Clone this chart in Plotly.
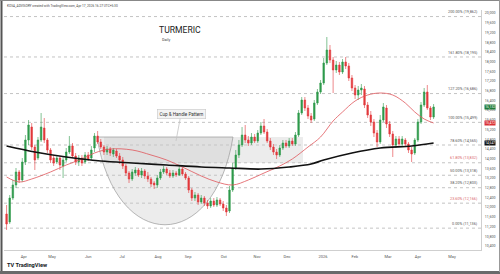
import plotly.graph_objects as go

# ---------------- data ----------------
bar_index = list(range(137))  # each bar ~ two trading days

opens = [11719, 11390, 12379, 12916, 13452, 13122, 13864, 14771, 15307, 14482,
         14029, 14771, 15265, 14771, 14359, 14029, 13864, 14029, 13699, 13946,
         14276, 14524, 14111, 13864, 14029, 13864, 14153, 14029, 14441, 14935,
         14689, 14482, 14276, 14400, 14194, 14317, 14111, 13946, 13699, 13410,
         13163, 13410, 13534, 13328, 13493, 13287, 13163, 12998, 12916, 13204,
         13452, 13575, 13410, 13287, 13410, 13328, 13575, 13369, 13204, 12709,
         12379, 12503, 12214, 12379, 12173, 12050, 12256, 12091, 12297, 12132,
         11967, 11843, 12709, 13616, 14153, 14565, 14977, 14771, 14647, 14895,
         14730, 15059, 15348, 15101, 14730, 14482, 14276, 14153, 14441, 14647,
         14524, 14730, 14606, 14977, 15884, 16420, 16090, 15760, 15637, 16296,
         16750, 17121, 17946, 18482, 18070, 17658, 17864, 17575, 17988, 17823,
         17328, 16915, 16626, 16832, 16874, 16214, 15802, 15513, 15059, 14689,
         15596, 16090, 15431, 15018, 14565, 14812, 14606, 14771, 14606, 14359,
         14235, 14771, 15513, 16214, 16750, 16090, 15719]
highs = [12091, 12503, 13122, 13616, 13534, 14029, 14977, 15596, 15472, 14565,
         14895, 15884, 15678, 14853, 14441, 14153, 14153, 14111, 14070, 14441,
         14935, 14647, 14235, 14153, 14153, 14276, 14276, 14524, 15059, 15142,
         14812, 14565, 14524, 14482, 14441, 14400, 14235, 14070, 13781, 13493,
         13575, 13658, 13616, 13616, 13575, 13452, 13246, 13081, 13328, 13575,
         13699, 13658, 13534, 13534, 13493, 13699, 13658, 13452, 13287, 12792,
         12627, 12586, 12503, 12462, 12297, 12379, 12379, 12420, 12379, 12256,
         12091, 12874, 13822, 14359, 14771, 15307, 15390, 14935, 15059, 15018,
         15183, 15513, 15637, 15224, 14853, 14606, 14400, 14565, 14771, 14771,
         14853, 14853, 15101, 16008, 16544, 16544, 16214, 15884, 16420, 16874,
         17245, 18152, 19018, 18688, 18194, 18029, 17988, 18111, 18194, 17946,
         17451, 17039, 16997, 17080, 16997, 16338, 15967, 15637, 15183, 15802,
         16296, 16214, 15555, 15142, 14935, 14935, 14935, 14853, 14689, 14482,
         14853, 15637, 16338, 16915, 17039, 16173, 16255]
lows = [11060, 11307, 12297, 12792, 12998, 13040, 13740, 14565, 14359, 13534,
        13946, 14689, 14647, 14235, 13822, 13699, 13781, 13534, 13204, 13864,
        14194, 14029, 13740, 13699, 13699, 13781, 13905, 13946, 14276, 14606,
        14400, 14153, 14153, 14111, 14070, 14029, 13781, 13575, 13287, 12998,
        13081, 13287, 13246, 13204, 13163, 13040, 12833, 12751, 12792, 13122,
        13369, 13328, 13204, 13204, 13246, 13287, 13287, 13122, 12586, 12256,
        12256, 12091, 12132, 12050, 11926, 11967, 12008, 12008, 12050, 11843,
        11637, 11760, 12627, 13534, 14029, 14482, 14647, 14524, 14565, 14647,
        14647, 14977, 15018, 14647, 14359, 14153, 13988, 14070, 14359, 14441,
        14441, 14524, 14524, 14895, 15802, 15967, 15637, 15472, 15555, 16214,
        16667, 17039, 17864, 17946, 16709, 17534, 17451, 17493, 17699, 17204,
        16791, 16461, 16420, 16626, 16090, 15678, 15348, 14895, 14482, 14606,
        15513, 15265, 14895, 14070, 14441, 14482, 14482, 14482, 14235, 13864,
        14153, 14689, 15431, 16132, 16008, 15596, 15637]
closes = [11307, 12379, 12916, 13452, 13122, 13864, 14771, 15390, 14482, 13946,
          14771, 15307, 14771, 14359, 13946, 13822, 14029, 13740, 13946, 14276,
          14524, 14111, 13864, 14029, 13822, 14153, 13988, 14359, 14935, 14689,
          14482, 14276, 14400, 14235, 14359, 14111, 13946, 13699, 13410, 13163,
          13452, 13534, 13328, 13493, 13287, 13163, 12957, 12916, 13204, 13452,
          13575, 13410, 13287, 13410, 13328, 13575, 13369, 13204, 12709, 12379,
          12503, 12214, 12379, 12173, 12050, 12256, 12091, 12297, 12132, 11967,
          11802, 12709, 13616, 14153, 14565, 14977, 14771, 14647, 14895, 14730,
          15059, 15348, 15101, 14730, 14482, 14276, 14153, 14441, 14647, 14524,
          14730, 14606, 14977, 15884, 16420, 16090, 15760, 15596, 16296, 16750,
          17121, 17946, 18482, 18070, 17658, 17864, 17575, 17988, 17823, 17328,
          16915, 16626, 16832, 16915, 16214, 15802, 15513, 15059, 14689, 15596,
          16132, 15431, 15018, 14565, 14812, 14606, 14812, 14606, 14359, 14194,
          14771, 15513, 16214, 16750, 16090, 15719, 16132]

ema_fast_bar = [0, 4, 8, 14, 19, 24, 28, 33, 40, 46, 51, 56, 62, 67, 72, 77, 82, 87,
                91, 96, 100, 104, 107, 111, 115, 119, 123, 127, 130, 133, 136]
ema_fast_val = [13246, 13040, 13163, 13452, 13740, 13988, 14235, 14400, 14359, 14153,
                13946, 13658, 13287, 13040, 12916, 13122, 13410, 13699, 13988, 14482,
                14895, 15555, 15926, 16379, 16626, 16709, 16626, 16296, 15926, 15637, 15472]

ema_slow_bar = [0, 9, 19, 30, 40, 51, 62, 71, 81, 90, 97, 101, 110, 119, 129, 136]
ema_slow_val = [14524, 14276, 14070, 13905, 13822, 13740, 13658, 13616, 13575, 13658,
                13781, 13946, 14235, 14441, 14524, 14647]

fib_ratio_labels = ["0.00%", "23.60%", "38.20%", "50.00%", "61.80%", "78.60%",
                    "100.00%", "127.20%", "161.80%", "200.00%"]
fib_prices = [11136, 12166, 12803, 13318, 13832, 14565, 15499, 16686, 18195, 19862]

month_start_bar = [5.5, 14.5, 26, 36.8, 48.2, 57.8, 69.2, 79.8, 89.3, 100.8, 110.9, 121.5, 131, 141.9]
month_labels = ["Apr", "May", "Jun", "Jul", "Aug", "Sep", "Oct", "Nov", "Dec", "2026",
                "Feb", "Mar", "Apr", "May"]

price_ticks = list(range(10400, 20001, 400))

last_close_label = "16,132"
fast_last_label = "15,472"
slow_last_label = "14,647"

# ---------------- helpers for drawing positions ----------------
L, R, T, B = 4, 19, 10, 24
W, H = 500, 274
PW, PH = W - L - R, H - T - B
XR = [-0.82, 151.1]
YR = [10235, 20132]


def px2x(px):
    return XR[0] + (px - L) / PW * (XR[1] - XR[0])


def py2p(py):
    return YR[1] - (py - T) / PH * (YR[1] - YR[0])


def ppx(px):
    return (px - L) / PW


def ppy(py):
    return (H - B - py) / PH


FONT = "Roboto"
GREEN = "#2f9a4c"
RED = "#e2393c"

fig = go.Figure()

fig.add_trace(go.Candlestick(
    x=bar_index, open=opens, high=highs, low=lows, close=closes,
    increasing=dict(line=dict(color=GREEN, width=0.6), fillcolor=GREEN),
    decreasing=dict(line=dict(color=RED, width=0.6), fillcolor=RED),
    whiskerwidth=0, hoverinfo="skip", showlegend=False,
))

fig.add_trace(go.Scatter(x=ema_fast_bar, y=ema_fast_val, mode="lines",
                         line=dict(color="#e0555a", width=0.8, shape="spline"),
                         hoverinfo="skip", showlegend=False))
fig.add_trace(go.Scatter(x=ema_slow_bar, y=ema_slow_val, mode="lines",
                         line=dict(color="#111111", width=1.7, shape="spline"),
                         hoverinfo="skip", showlegend=False))

shapes = []
annotations = []

# Cup & Handle shading
rx1 = px2x(303)
rim = py2p(137)
shapes.append(dict(type="rect", xref="x", yref="y", x0=px2x(104), x1=rx1, y0=py2p(163), y1=rim,
                   fillcolor="rgba(200,200,200,0.35)", line=dict(width=0), layer="below"))
cup_path = "M {:.2f},{:.1f} C {:.2f},{:.1f} {:.2f},{:.1f} {:.2f},{:.1f} Z".format(
    px2x(97), rim, px2x(116), py2p(254), px2x(214), py2p(254), px2x(233), rim)
shapes.append(dict(type="path", xref="x", yref="y", path=cup_path,
                   fillcolor="rgba(200,200,200,0.35)", line=dict(color="#9a9a9a", width=0.7),
                   layer="below"))

# Fibonacci levels
for lab, pr in zip(fib_ratio_labels, fib_prices):
    shapes.append(dict(type="line", xref="paper", yref="y", x0=0, x1=1, y0=pr, y1=pr,
                       line=dict(color="#9a9a9a", width=0.6, dash="dot"), layer="below"))
    col = "#d9686b" if lab in ("61.80%", "23.60%") else "#555555"
    annotations.append(dict(xref="paper", yref="y", x=0.998, y=pr, xanchor="right", yanchor="bottom",
                            text=f"{lab} ({pr:,})", showarrow=False,
                            font=dict(size=3.8, color=col, family=FONT), yshift=0.3))

# Callout
annotations.append(dict(xref="x", yref="y", x=px2x(176), y=py2p(141),
                        ax=5, ay=-27, text="Cup & Handle Pattern", showarrow=True,
                        arrowhead=0, arrowwidth=0.8, arrowcolor="#c4c4c4",
                        bgcolor="#f3f3f3", bordercolor="#c8c8c8", borderwidth=0.6, borderpad=2,
                        font=dict(size=4.6, color="#333", family=FONT)))

# Titles
annotations.append(dict(xref="paper", yref="paper", x=ppx(157), y=ppy(30), xanchor="left",
                        yanchor="middle", text="TURMERIC", showarrow=False,
                        font=dict(size=8.6, color="#222", family=FONT)))
annotations.append(dict(xref="paper", yref="paper", x=ppx(160), y=ppy(39), xanchor="left",
                        yanchor="middle", text="Daily", showarrow=False,
                        font=dict(size=3.8, color="#444", family=FONT)))
annotations.append(dict(xref="paper", yref="paper", x=ppx(5), y=ppy(6), xanchor="left",
                        yanchor="middle",
                        text="KOSA_ADVISORY created with TradingView.com, Apr 17, 2026 16:27 UTC+5:30",
                        showarrow=False, font=dict(size=3.2, color="#444", family=FONT)))
annotations.append(dict(xref="paper", yref="paper", x=ppx(5), y=ppy(265), xanchor="left",
                        yanchor="middle", text="<b>TV</b> <b>TradingView</b>", showarrow=False,
                        font=dict(size=5.6, color="#131722", family=FONT)))

# Price boxes on the axis
for pr_lab, col in ((last_close_label, "#1f7a3a"), (fast_last_label, "#d93034"), (slow_last_label, "#111")):
    pr = int(pr_lab.replace(",", ""))
    annotations.append(dict(xref="paper", yref="y", x=ppx(484), y=pr, xanchor="left", yanchor="middle",
                            text=pr_lab, showarrow=False, bgcolor=col, borderpad=0.2,
                            font=dict(size=3.3, color="white", family=FONT)))

# Frame around the snapshot
shapes.append(dict(type="line", xref="paper", yref="paper", x0=ppx(1.5), x1=ppx(1.5), y0=ppy(0), y1=ppy(272),
                   line=dict(color="#555", width=2)))
shapes.append(dict(type="line", xref="paper", yref="paper", x0=ppx(0), x1=ppx(500), y0=ppy(0.5), y1=ppy(0.5),
                   line=dict(color="#888", width=1)))
shapes.append(dict(type="rect", xref="paper", yref="paper", x0=ppx(0), x1=ppx(500), y0=ppy(271), y1=ppy(274),
                   fillcolor="#6a6a6a", line=dict(width=0)))
shapes.append(dict(type="line", xref="paper", yref="paper", x0=ppx(499.5), x1=ppx(499.5), y0=ppy(0), y1=ppy(272),
                   line=dict(color="#999", width=1)))

fig.update_layout(
    width=W, height=H, margin=dict(l=L, r=R, t=T, b=B),
    paper_bgcolor="white", plot_bgcolor="white", showlegend=False,
    font=dict(family=FONT),
    xaxis=dict(range=XR, tickvals=month_start_bar, ticktext=month_labels,
               tickfont=dict(size=4, color="#555", family=FONT), showgrid=False, zeroline=False,
               showline=True, linecolor="#cfcfcf", linewidth=1, ticks="",
               rangeslider=dict(visible=False), fixedrange=True, ticklabelstandoff=2),
    yaxis=dict(range=YR, side="right", tickvals=price_ticks, tickformat=",",
               tickfont=dict(size=3.6, color="#555", family=FONT), showgrid=False, zeroline=False,
               showline=True, linecolor="#cfcfcf", linewidth=1, ticks="", fixedrange=True,
               ticklabelstandoff=2),
    shapes=shapes, annotations=annotations,
)

fig.write_html("out.html")
